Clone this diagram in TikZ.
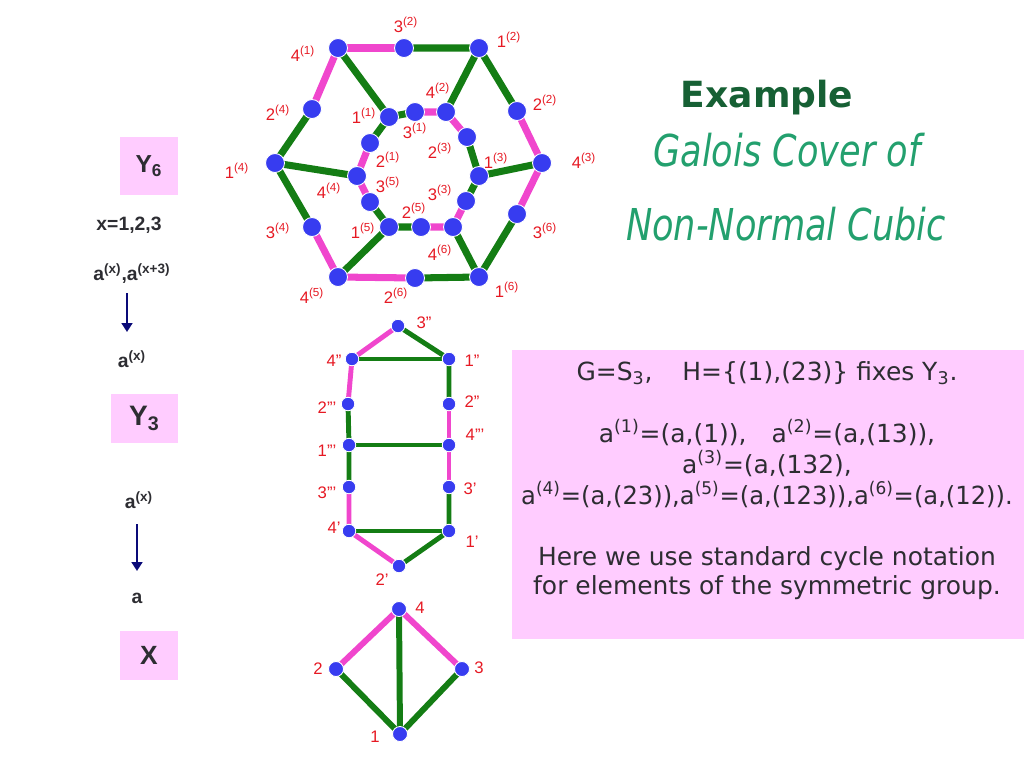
\documentclass[tikz,border=0pt]{standalone}
\usepackage{fontspec}
\usepackage{graphicx}
\setmainfont{Liberation Sans}
\newfontfamily\boxfont{DejaVu Sans}
\usepackage{tikz}
\usetikzlibrary{arrows.meta, backgrounds}
\definecolor{edgepink}{RGB}{240, 70, 205}
\definecolor{edgegreen}{RGB}{20, 125, 20}
\definecolor{vertexblue}{RGB}{55, 60, 240}
\definecolor{labelred}{RGB}{230, 25, 35}
\definecolor{panelpink}{RGB}{255, 204, 255}
\definecolor{textgray}{RGB}{45, 45, 50}
\definecolor{arrownavy}{RGB}{10, 10, 120}
\definecolor{titlegreen}{RGB}{22, 96, 52}
\definecolor{subgreen}{RGB}{35, 160, 110}

\tikzset{
    vtx/.style={circle, fill=vertexblue, draw=white, line width=0.5pt, inner sep=0pt, minimum size=0.38cm},
    vtxsmall/.style={vtx, minimum size=0.27cm},
    vtxmid/.style={vtx, minimum size=0.3cm},
    lbl/.style={anchor=base, text=labelred, inner sep=0pt, font=\fontsize{9.5}{11}\selectfont},
    pe/.style={draw=edgepink},
    ge/.style={draw=edgegreen},
    panel/.style={fill=panelpink, inner sep=0pt, text=textgray, font=\bfseries},
    lefttxt/.style={anchor=base, text=textgray, inner sep=0pt, font=\bfseries\fontsize{11}{13}\selectfont},
    cover/.style={draw=arrownavy, line width=1.7pt, -{Triangle[width=6pt, length=5pt]}},
    boxtxt/.style={anchor=base, text=textgray, inner sep=0pt, font=\boxfont\fontsize{14.2}{17}\selectfont},
    subtitle/.style={anchor=base, text=subgreen, inner sep=0pt, font=\boxfont\itshape\fontsize{25}{29}\selectfont}
}

\begin{document}
\begin{tikzpicture}[x=0.02cm, y=-0.02cm]
\useasboundingbox (0,0) rectangle (1024,768);

% Title
\node[anchor=base, text=titlegreen, font=\boxfont\bfseries\fontsize{20.5}{24}\selectfont] (title) at (767,107) {Example};
\node[subtitle] (subone) at (787,166) {\scalebox{0.8}[1]{Galois Cover of}};
\node[subtitle] (subtwo) at (786,240) {\scalebox{0.8}[1]{Non-Normal Cubic}};

% Y6: outer hexagon
\node[vtx] (n41) at (338,48) {};
\node[vtx] (n32) at (404,48) {};
\node[vtx] (n12) at (479,48) {};
\node[vtx] (n22) at (517,111) {};
\node[vtx] (n43) at (542,163) {};
\node[vtx] (n36) at (517,214) {};
\node[vtx] (n16) at (479,277) {};
\node[vtx] (n26) at (415,278) {};
\node[vtx] (n45) at (338,277) {};
\node[vtx] (n34) at (312,227) {};
\node[vtx] (n14) at (275,163) {};
\node[vtx] (n24) at (312,109) {};

% Y6: inner hexagon
\node[vtx] (n11) at (389,117) {};
\node[vtx] (n31) at (415,112) {};
\node[vtx] (n42) at (446,112) {};
\node[vtx] (n23) at (467,137) {};
\node[vtx] (n13) at (479,176) {};
\node[vtx] (n33) at (466,201) {};
\node[vtx] (n46) at (453,227) {};
\node[vtx] (n25) at (421,227) {};
\node[vtx] (n15) at (389,227) {};
\node[vtx] (n35) at (370,202) {};
\node[vtx] (n44) at (357,176) {};
\node[vtx] (n21) at (370,143) {};

\begin{scope}[on background layer]
\begin{scope}[line width=4pt]
    \draw[pe] (n41.center) -- (n32.center);
    \draw[ge] (n32.center) -- (n12.center) -- (n22.center);
    \draw[pe] (n22.center) -- (n43.center) -- (n36.center);
    \draw[ge] (n36.center) -- (n16.center) -- (n26.center);
    \draw[pe] (n26.center) -- (n45.center) -- (n34.center);
    \draw[ge] (n34.center) -- (n14.center) -- (n24.center);
    \draw[pe] (n24.center) -- (n41.center);
    % inner ring
    \draw[ge] (n21.center) -- (n11.center) -- (n31.center);
    \draw[pe] (n31.center) -- (n42.center) -- (n23.center);
    \draw[ge] (n23.center) -- (n13.center) -- (n33.center);
    \draw[pe] (n33.center) -- (n46.center) -- (n25.center);
    \draw[ge] (n25.center) -- (n15.center) -- (n35.center);
    \draw[pe] (n35.center) -- (n44.center) -- (n21.center);
    % spokes
    \draw[ge] (n41.center) -- (n11.center);
    \draw[ge] (n12.center) -- (n42.center);
    \draw[ge] (n43.center) -- (n13.center);
    \draw[ge] (n16.center) -- (n46.center);
    \draw[ge] (n45.center) -- (n15.center);
    \draw[ge] (n14.center) -- (n44.center);
\end{scope}
\end{scope}

\node[lbl] (l41) at (303,61) {4\textsuperscript{(1)}};
\node[lbl] (l32) at (406,32) {3\textsuperscript{(2)}};
\node[lbl] (l12) at (509,47) {1\textsuperscript{(2)}};
\node[lbl] (l22) at (545,110) {2\textsuperscript{(2)}};
\node[lbl] (l43) at (584,168) {4\textsuperscript{(3)}};
\node[lbl] (l36) at (545,238) {3\textsuperscript{(6)}};
\node[lbl] (l16) at (507,297) {1\textsuperscript{(6)}};
\node[lbl] (l26) at (396,303) {2\textsuperscript{(6)}};
\node[lbl] (l45) at (312,303) {4\textsuperscript{(5)}};
\node[lbl] (l34) at (278,238) {3\textsuperscript{(4)}};
\node[lbl] (l14) at (237,178) {1\textsuperscript{(4)}};
\node[lbl] (l24) at (278,120) {2\textsuperscript{(4)}};
\node[lbl] (l11) at (364,123) {1\textsuperscript{(1)}};
\node[lbl] (l31) at (415,138) {3\textsuperscript{(1)}};
\node[lbl] (l42) at (438,98) {4\textsuperscript{(2)}};
\node[lbl] (l23) at (440,158) {2\textsuperscript{(3)}};
\node[lbl] (l13) at (496,168) {1\textsuperscript{(3)}};
\node[lbl] (l33) at (440,200) {3\textsuperscript{(3)}};
\node[lbl] (l46) at (440,260) {4\textsuperscript{(6)}};
\node[lbl] (l25) at (414,218) {2\textsuperscript{(5)}};
\node[lbl] (l15) at (363,238) {1\textsuperscript{(5)}};
\node[lbl] (l35) at (388,192) {3\textsuperscript{(5)}};
\node[lbl] (l44) at (329,198) {4\textsuperscript{(4)}};
\node[lbl] (l21) at (388,167) {2\textsuperscript{(1)}};

% Y3: ladder
\node[vtxsmall] (m3b) at (398,326) {};
\node[vtxsmall] (m4b) at (352,359) {};
\node[vtxsmall] (m1b) at (449,359) {};
\node[vtxsmall] (m2c) at (348,404) {};
\node[vtxsmall] (m2b) at (449,404) {};
\node[vtxsmall] (m1c) at (349,445) {};
\node[vtxsmall] (m4c) at (449,445) {};
\node[vtxsmall] (m3c) at (349,487) {};
\node[vtxsmall] (m3a) at (449,487) {};
\node[vtxsmall] (m4a) at (349,531) {};
\node[vtxsmall] (m1a) at (449,531) {};
\node[vtxsmall] (m2a) at (399,566) {};

\begin{scope}[on background layer]
\begin{scope}[line width=2.8pt]
    \draw[pe] (m3b.center) -- (m4b.center) -- (m2c.center);
    \draw[ge] (m3b.center) -- (m1b.center) -- (m2b.center);
    \draw[ge] (m4b.center) -- (m1b.center);
    \draw[ge] (m2c.center) -- (m1c.center) -- (m3c.center);
    \draw[pe] (m2b.center) -- (m4c.center) -- (m3a.center);
    \draw[ge] (m1c.center) -- (m4c.center);
    \draw[pe] (m3c.center) -- (m4a.center) -- (m2a.center);
    \draw[ge] (m3a.center) -- (m1a.center) -- (m2a.center);
    \draw[ge] (m4a.center) -- (m1a.center);
\end{scope}
\end{scope}

\node[lbl] (k3b) at (424,328) {3”};
\node[lbl] (k4b) at (334,366) {4”};
\node[lbl] (k1b) at (472,366) {1”};
\node[lbl] (k2c) at (327,413) {2”’};
\node[lbl] (k2b) at (472,407) {2”};
\node[lbl] (k1c) at (327,456) {1”’};
\node[lbl] (k4c) at (475,440) {4”’};
\node[lbl] (k3c) at (327,498) {3”’};
\node[lbl] (k3a) at (470,494) {3’};
\node[lbl] (k4a) at (334,533) {4’};
\node[lbl] (k1a) at (472,547) {1’};
\node[lbl] (k2a) at (382,585) {2’};

% X: cubic
\node[vtxmid] (c4) at (399,609) {};
\node[vtxmid] (c2) at (336,669) {};
\node[vtxmid] (c3) at (462,669) {};
\node[vtxmid] (c1) at (400,734) {};

\begin{scope}[on background layer]
\begin{scope}[line width=3.4pt]
    \draw[pe] (c2.center) -- (c4.center) -- (c3.center);
    \draw[ge] (c2.center) -- (c1.center) -- (c3.center);
    \draw[ge] (c4.center) -- (c1.center);
\end{scope}
\end{scope}

\node[lbl] (d4) at (420,613) {4};
\node[lbl] (d2) at (318,674) {2};
\node[lbl] (d3) at (479,673) {3};
\node[lbl] (d1) at (375,742) {1};

% left column: the covers
\node[panel, minimum width=1.16cm, minimum height=1.16cm, font=\bfseries\fontsize{14}{16}\selectfont] (ysix) at (149,166) {Y\textsubscript{6}};
\node[lefttxt] (xrange) at (129,230) {x=1,2,3};
\node[lefttxt] (asix) at (132,280) {a\textsuperscript{(x)},a\textsuperscript{(x+3)}};
\node[lefttxt] (athree) at (132,367) {a\textsuperscript{(x)}};
\node[panel, minimum width=1.34cm, minimum height=0.98cm, font=\bfseries\fontsize{16}{18}\selectfont] (ythree) at (144.5,418.5) {Y\textsubscript{3}};
\node[lefttxt] (alow) at (139,508) {a\textsuperscript{(x)}};
\node[lefttxt] (abase) at (137,603) {a};
\node[panel, minimum width=1.16cm, minimum height=0.98cm, font=\bfseries\fontsize{15}{17}\selectfont] (xbase) at (149,655.5) {X};

\coordinate (arrA) at (127,293);
\coordinate (arrB) at (127,332);
\coordinate (arrC) at (137,524);
\coordinate (arrD) at (137,571);
\draw[cover] (arrA) -- (arrB);
\draw[cover] (arrC) -- (arrD);

% right panel
\node[panel, minimum width=10.24cm, minimum height=5.78cm] (info) at (768,494.5) {};
\node[boxtxt] (ltone) at (767,380) {G=S\textsubscript{3},\hspace{1.2em}H=\{(1),(23)\} fixes Y\textsubscript{3}.};
\node[boxtxt] (lttwo) at (767,442) {a\textsuperscript{(1)}=(a,(1)),\hspace{1em}a\textsuperscript{(2)}=(a,(13)),};
\node[boxtxt] (ltthree) at (767,473) {a\textsuperscript{(3)}=(a,(132),};
\node[boxtxt] (ltfour) at (767,504) {\scalebox{0.97}[1]{a\textsuperscript{(4)}=(a,(23)),a\textsuperscript{(5)}=(a,(123)),a\textsuperscript{(6)}=(a,(12)).}};
\node[boxtxt] (ltfive) at (767,565) {Here we use standard cycle notation};
\node[boxtxt] (ltsix) at (767,594) {for elements of the symmetric group.};
\end{tikzpicture}
\end{document}
